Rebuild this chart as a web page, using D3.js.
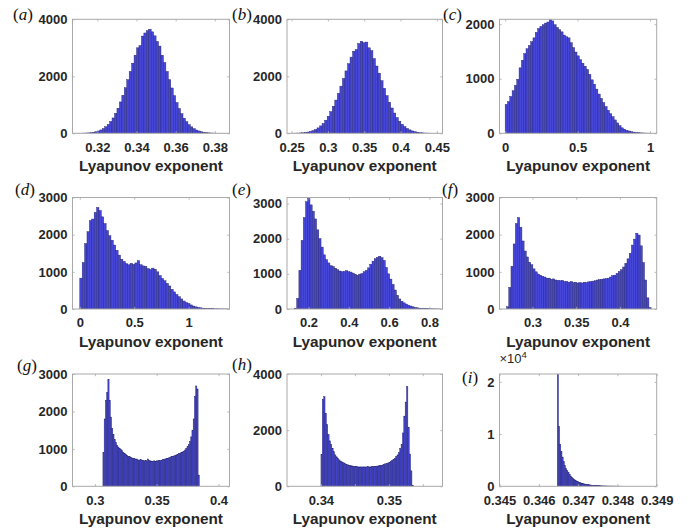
<!DOCTYPE html>
<html>
<head>
<meta charset="utf-8">
<script src="https://cdn.jsdelivr.net/npm/d3@7"></script>
<style>
  html, body { margin: 0; padding: 0; background: #fff; }
  svg { display: block; }
</style>
</head>
<body>
<svg id="fig" width="695" height="531"></svg>
<script>
// Histograms of the Lyapunov exponent for nine cases, (a)–(i).

const panelNames = ["a", "b", "c", "d", "e", "f", "g", "h", "i"];

// Left edge of the first bin and bin width for each panel
const binStart = [0.3075, 0.2465, 0.0, 0.0, 0.13, 0.2705, 0.3065, 0.3400, 0.34647];
const binWidth = [0.00125, 0.0035, 0.016, 0.022, 0.011, 0.0025, 0.001, 0.0002, 0.00003];

// Bin counts
const countsA = [1,1,2,3,6,9,14,22,38,55,82,118,165,230,311,415,539,700,880,1100,1336,1600,1880,2170,2460,2740,3000,3080,3410,3520,3600,3650,3560,3420,3220,3060,2740,2480,2170,1880,1590,1320,1080,870,687,530,405,305,227,165,116,82,55,37,24,16,10,7,4,3,2,1,1,0];
const countsB = [2,3,5,8,12,19,30,45,65,95,134,190,260,347,460,598,760,950,1167,1400,1655,1920,2190,2440,2673,2880,2940,3150,3230,3180,3200,3000,2900,2620,2360,2110,1845,1580,1320,1090,888,710,555,425,317,235,170,120,84,57,39,26,16,10,6,4,2,1,1,0];
const countsC = [530,580,675,780,880,990,1200,1340,1460,1550,1610,1680,1750,1850,1920,1960,1990,2020,2040,2090,2060,1990,1940,1900,1860,1800,1770,1750,1660,1570,1490,1420,1350,1285,1230,1170,1080,980,900,810,720,640,560,490,420,360,305,245,190,140,100,75,55,42,30,22,16,11,8,6,4,3,2];
const countsD = [830,1250,1760,2080,2380,2420,2600,2730,2650,2480,2300,2110,1970,1850,1720,1580,1450,1340,1280,1220,1190,1230,1200,1240,1300,1190,1160,1150,1090,1060,1100,1070,1000,900,820,760,690,620,530,460,390,330,270,215,175,150,110,80,58,42,32,22,16,12,9,7,5,4,3,2,2,1];
const countsE = [20,300,1100,1950,2600,3050,3150,2960,2780,2560,2250,2000,1760,1540,1400,1310,1230,1210,1160,1120,1080,1060,1070,1090,1060,1050,1020,990,960,990,1010,1060,1100,1170,1270,1360,1430,1470,1500,1460,1380,1180,1000,850,700,540,390,285,220,175,140,110,85,62,45,34,25,18,13,10,7,5,4,3,2,1];
const countsF = [60,580,1150,1750,2300,2460,2200,1830,1560,1400,1260,1190,1080,1000,940,910,880,860,830,830,800,810,780,770,760,770,740,740,720,740,710,720,700,710,700,720,710,730,740,750,760,780,790,800,810,820,830,860,900,910,960,1010,1060,1130,1230,1350,1500,1720,1880,2040,1990,1700,1250,780,300,40];
const countsG = [900,1800,2300,2500,2860,2300,1850,1550,1380,1250,1170,1100,1050,1010,980,950,910,880,850,830,800,790,770,760,745,740,720,730,705,700,710,690,700,680,690,680,730,690,680,670,670,680,670,680,680,690,690,700,710,720,730,740,750,760,770,790,800,810,820,840,850,870,880,900,920,940,970,1010,1060,1120,1200,1320,1500,1800,2400,2680,2600,300];
const countsH = [1130,3100,3190,2600,2200,1850,1620,1480,1350,1230,1120,1050,990,940,900,870,840,810,790,770,750,740,730,720,710,700,700,690,690,690,690,690,690,690,700,690,690,700,700,710,710,720,730,740,750,760,780,800,810,830,860,890,920,960,1000,1060,1120,1200,1350,1500,1900,2500,3000,3550,2100,1150,550,40];
const countsI = [21500,11500,8000,6700,5600,4700,4000,3400,3000,2600,2250,1950,1700,1500,1300,1150,1000,880,780,690,610,540,480,430,380,340,300,270,240,215,190,170,150,135,120,110,100,90,80,75,70,65,60,55,50,48,45,42,40,38,35,32,30,28,25];
const allCounts = [countsA, countsB, countsC, countsD, countsE, countsF, countsG, countsH, countsI];

// Axis limits
const xDomains = [[0.3073, 0.3875], [0.2437, 0.4578], [-0.039, 1.046], [-0.067, 1.375], [0.093, 0.865], [0.2624, 0.4419], [0.2819, 0.4089], [0.335, 0.3579], [0.345, 0.349]];
const yMax = [4000, 4000, 2090, 3000, 3170, 3000, 3000, 4000, 21500];

// Tick positions and their labels
const xTicks = [
  [0.32, 0.34, 0.36, 0.38],
  [0.25, 0.3, 0.35, 0.4, 0.45],
  [0, 0.5, 1],
  [0, 0.5, 1],
  [0.2, 0.4, 0.6, 0.8],
  [0.3, 0.35, 0.4],
  [0.3, 0.35, 0.4],
  [0.34, 0.345, 0.35, 0.355],
  [0.345, 0.346, 0.347, 0.348, 0.349]
];
const xTickLabels = [
  ["0.32", "0.34", "0.36", "0.38"],
  ["0.25", "0.3", "0.35", "0.4", "0.45"],
  ["0", "0.5", "1"],
  ["0", "0.5", "1"],
  ["0.2", "0.4", "0.6", "0.8"],
  ["0.3", "0.35", "0.4"],
  ["0.3", "0.35", "0.4"],
  ["0.34", "", "0.35", ""],
  ["0.345", "0.346", "0.347", "0.348", "0.349"]
];
const yTicks = [
  [0, 2000, 4000], [0, 2000, 4000], [0, 1000, 2000],
  [0, 1000, 2000, 3000], [0, 1000, 2000, 3000], [0, 1000, 2000, 3000],
  [0, 1000, 2000, 3000], [0, 2000, 4000], [0, 10000, 20000]
];
const yTickLabels = [
  ["0", "2000", "4000"], ["0", "2000", "4000"], ["0", "1000", "2000"],
  ["0", "1000", "2000", "3000"], ["0", "1000", "2000", "3000"], ["0", "1000", "2000", "3000"],
  ["0", "1000", "2000", "3000"], ["0", "2000", "4000"], ["0", "1", "2"]
];
const xAxisTitle = "Lyapunov exponent";

// ---- layout ----
const colLeft = [72.5, 287, 499.5];
const colWidth = [157, 155.5, 157.2];
const rowTop = [19.3, 197.5, 374];
const rowHeight = [114, 111.5, 112.3];
const labelPos = [[13, 20], [232, 20], [443, 20], [15, 195], [232, 195], [442, 195], [17, 371], [232, 370], [462, 383]];

const boxColor = "#a9a9a9";
const textColor = "#262626";
const barFill = "#4646d8";
const barStroke = "#22226e";
const sansFont = "'Liberation Sans', Arial, Helvetica, sans-serif";
const serifFont = "'Liberation Serif', 'DejaVu Serif', serif";

const svg = d3.select("#fig");
const defs = svg.append("defs");

panelNames.forEach((name, k) => {
  const r = Math.floor(k / 3), c = k % 3;
  const x0 = colLeft[c], w = colWidth[c], y0 = rowTop[r], h = rowHeight[r];

  const x = d3.scaleLinear().domain(xDomains[k]).range([x0, x0 + w]);
  const y = d3.scaleLinear().domain([0, yMax[k]]).range([y0 + h, y0]);

  const clipId = "clip-" + name;
  defs.append("clipPath").attr("id", clipId)
    .append("rect").attr("x", x0).attr("y", y0).attr("width", w).attr("height", h);

  const g = svg.append("g");

  // bars
  const counts = allCounts[k];
  const bins = counts.map((v, i) => ({
    lo: binStart[k] + i * binWidth[k],
    hi: binStart[k] + (i + 1) * binWidth[k],
    v
  }));
  g.append("g").attr("clip-path", `url(#${clipId})`)
    .selectAll("rect").data(bins).join("rect")
    .attr("x", d => x(d.lo))
    .attr("width", d => Math.max(0.1, x(d.hi) - x(d.lo)))
    .attr("y", d => y(d.v))
    .attr("height", d => y(0) - y(d.v))
    .attr("fill", barFill)
    .attr("stroke", barStroke)
    .attr("stroke-width", 0.42);

  // axes box with inward ticks on all four sides
  const tickLen = 2.2;
  const axB = d3.axisBottom(x).tickValues(xTicks[k]).tickSize(-tickLen).tickPadding(9)
    .tickFormat((d, i) => xTickLabels[k][i]);
  const axT = d3.axisTop(x).tickValues(xTicks[k]).tickSize(-tickLen).tickFormat("");
  const axL = d3.axisLeft(y).tickValues(yTicks[k]).tickSize(-tickLen).tickPadding(5)
    .tickFormat((d, i) => yTickLabels[k][i]);
  const axR = d3.axisRight(y).tickValues(yTicks[k]).tickSize(-tickLen).tickFormat("");

  const styleAxis = sel => {
    sel.selectAll(".tick line").attr("stroke", boxColor).attr("stroke-width", 0.8);
    sel.selectAll(".tick text")
      .attr("fill", textColor)
      .style("font-family", sansFont)
      .style("font-weight", "bold")
      .style("font-size", "13px");
  };
  g.append("g").attr("transform", `translate(0,${y0 + h})`).call(axB).call(styleAxis);
  g.append("g").attr("transform", `translate(0,${y0})`).call(axT).call(styleAxis);
  g.append("g").attr("transform", `translate(${x0},0)`).call(axL).call(styleAxis);
  g.append("g").attr("transform", `translate(${x0 + w},0)`).call(axR).call(styleAxis);
  g.selectAll(".domain").remove();
  g.append("rect")
    .attr("x", x0).attr("y", y0).attr("width", w).attr("height", h)
    .attr("fill", "none").attr("stroke", boxColor).attr("stroke-width", 1);

  // x-axis title
  g.append("text")
    .attr("x", x0 + w / 2)
    .attr("y", y0 + h + 37.5)
    .attr("text-anchor", "middle")
    .attr("fill", textColor)
    .style("font-family", sansFont)
    .style("font-weight", "bold")
    .style("font-size", "15.3px")
    .text(xAxisTitle);

  // panel label (a)...(i)
  const lab = g.append("text")
    .attr("x", labelPos[k][0]).attr("y", labelPos[k][1])
    .attr("fill", "#111")
    .style("font-family", serifFont)
    .style("font-size", "17px");
  lab.append("tspan").text("(");
  lab.append("tspan").style("font-style", "italic").text(name);
  lab.append("tspan").text(")");

  // exponent marker for the scaled axis
  if (name === "i") {
    const ex = g.append("text")
      .attr("x", x0).attr("y", y0 - 11.5)
      .attr("fill", textColor)
      .style("font-family", sansFont)
      .style("font-size", "13px");
    ex.append("tspan").text("\u00d710");
    ex.append("tspan").attr("dy", -4.5).style("font-size", "9.5px").text("4");
  }
});
</script>
</body>
</html>
